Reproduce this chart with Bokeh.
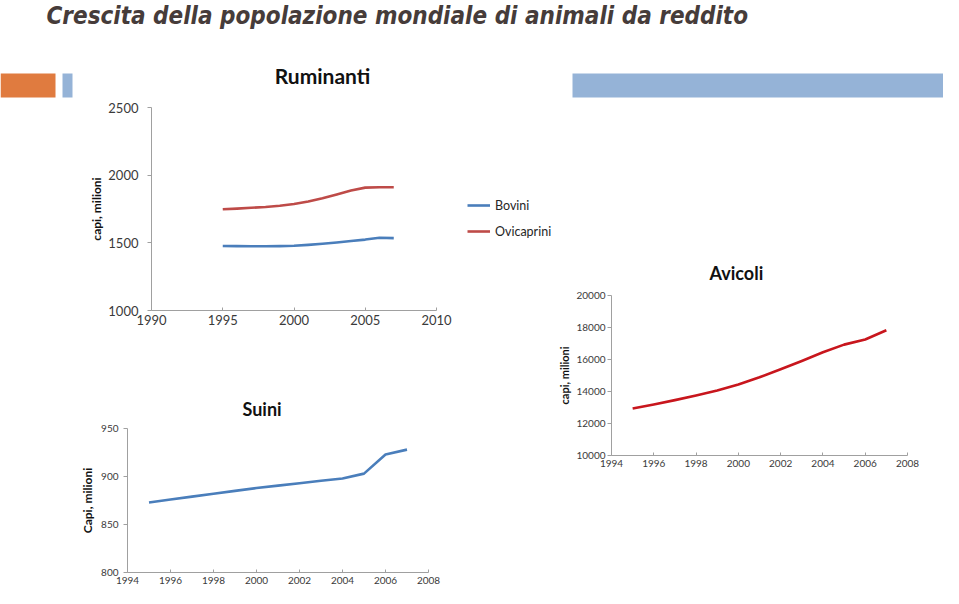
from bokeh.plotting import figure
from bokeh.layouts import column, row
from bokeh.models import Range1d, Legend, LegendItem, Title, FixedTicker
from bokeh.embed import file_html
from bokeh.resources import INLINE
from bokeh.core.properties import value

# ---------------- data ----------------
MAIN_TITLE = "Crescita della popolazione mondiale di animali da reddito"

rum_years = [1995, 1996, 1997, 1998, 1999, 2000, 2001, 2002, 2003, 2004, 2005, 2006, 2007]
bovini = [1477, 1476, 1475, 1475, 1476, 1479, 1485, 1493, 1503, 1513, 1524, 1538, 1535]
ovicaprini = [1748, 1753, 1759, 1765, 1774, 1787, 1805, 1830, 1858, 1886, 1908, 1911, 1911]
rum_xticks = [1990, 1995, 2000, 2005, 2010]
rum_yticks = [1000, 1500, 2000, 2500]

avi_years = [1995, 1996, 1997, 1998, 1999, 2000, 2001, 2002, 2003, 2004, 2005, 2006, 2007]
avicoli = [12940, 13190, 13460, 13750, 14060, 14440, 14890, 15390, 15910, 16450, 16930, 17250, 17830]
avi_xticks = [1994, 1996, 1998, 2000, 2002, 2004, 2006, 2008]
avi_yticks = [10000, 12000, 14000, 16000, 18000, 20000]

sui_years = [1995, 1996, 1997, 1998, 1999, 2000, 2001, 2002, 2003, 2004, 2005, 2006, 2007]
suini = [873, 876, 879, 882, 885, 888, 890.5, 893, 895.5, 898, 903, 923, 928]
sui_xticks = [1994, 1996, 1998, 2000, 2002, 2004, 2006, 2008]
sui_yticks = [800, 850, 900, 950]

# ---------------- styles ----------------
FONT = "Lato"
TITLE_FONT = "'DejaVu Sans Condensed', 'DejaVu Sans', sans-serif"
AXIS_COL = "#a0a0a0"
LABEL_COL = "#3a3a3a"
BLUE = "#4a7ebb"
RED_RUM = "#be4b48"
RED_AVI = "#c8161d"
ORANGE = "#e07b3f"
LIGHTBLUE = "#95b3d7"

LEFT_W = 555


def base_fig(w, h, xr, yr, left, right, top, bottom):
    p = figure(width=w, height=h, x_range=Range1d(*xr), y_range=Range1d(*yr),
               output_backend="svg", toolbar_location=None,
               min_border_left=left, min_border_right=right,
               min_border_top=top, min_border_bottom=bottom)
    p.outline_line_color = None
    p.xgrid.visible = False
    p.ygrid.visible = False
    p.background_fill_color = "white"
    p.border_fill_color = "white"
    return p


def style_axes(p, xticks, yticks, fs, ylabel, ystandoff, lstandoff, lfs="12px"):
    p.xaxis.ticker = FixedTicker(ticks=xticks)
    p.yaxis.ticker = FixedTicker(ticks=yticks)
    for ax in (p.xaxis[0], p.yaxis[0]):
        ax.axis_line_color = AXIS_COL
        ax.major_tick_line_color = AXIS_COL
        ax.minor_tick_line_color = None
        ax.major_label_text_font = FONT
        ax.major_label_text_font_size = fs
        ax.major_label_text_color = LABEL_COL
    p.xaxis.major_tick_in = 3
    p.xaxis.major_tick_out = 0
    p.xaxis.major_label_standoff = 4
    p.yaxis.major_tick_in = 0
    p.yaxis.major_tick_out = 4
    p.yaxis.major_label_standoff = ystandoff
    p.yaxis.axis_label = ylabel
    p.yaxis.axis_label_text_font = FONT
    p.yaxis.axis_label_text_font_style = "bold"
    p.yaxis.axis_label_text_font_size = lfs
    p.yaxis.axis_label_text_color = "#111111"
    p.yaxis.axis_label_standoff = lstandoff


# ---------------- header ----------------
hdr = figure(width=943, height=100, x_range=Range1d(0, 943), y_range=Range1d(100, 0),
             output_backend="svg", toolbar_location=None,
             x_axis_type=None, y_axis_type=None, min_border=0)
hdr.outline_line_color = None
hdr.xgrid.visible = False
hdr.ygrid.visible = False
hdr.quad(left=[0], right=[55], top=[73], bottom=[97], color=ORANGE, line_color=None)
hdr.quad(left=[62], right=[72], top=[73], bottom=[97], color=LIGHTBLUE, line_color=None)
hdr.quad(left=[572], right=[959], top=[73], bottom=[97], color=LIGHTBLUE, line_color=None)
hdr.text(x=[46], y=[15], text=[MAIN_TITLE], text_font=value(TITLE_FONT),
         text_font_style="bold italic", text_font_size="24px", text_color="#463c3a",
         text_baseline="middle", text_align="left")
hdr.text(x=[322], y=[75], text=["Ruminanti"], text_font=value(FONT),
         text_font_style="bold", text_font_size="21px", text_color="#111111",
         text_baseline="middle", text_align="center")

# ---------------- Ruminanti ----------------
# frame spans 151..555 px; 1990..2010 occupy 151..436 px, the rest holds the legend
rum = base_fig(LEFT_W, 240, (1990, 2018.35), (1000, 2500), 151, 0, 7, 30)
style_axes(rum, rum_xticks, rum_yticks, "13px", "capi, milioni", 9, 1)
rum.xaxis.bounds = (1990, 2010)
r_bov = rum.line(rum_years, bovini, line_color=BLUE, line_width=2.6, line_join="round")
r_ovi = rum.line(rum_years, ovicaprini, line_color=RED_RUM, line_width=2.6, line_join="round")
leg = Legend(items=[LegendItem(label="Bovini", renderers=[r_bov]),
                    LegendItem(label="Ovicaprini", renderers=[r_ovi])],
             location=(316, 69), padding=0, margin=0, spacing=6,
             glyph_width=23, glyph_height=20, label_standoff=5,
             label_text_font=FONT, label_text_font_size="12.5px", label_text_color="#262626",
             border_line_color=None, background_fill_alpha=0)
rum.add_layout(leg, "center")

# ---------------- Suini ----------------
sui = base_fig(LEFT_W, 248, (1994, 2008), (800, 950), 127, 127, 88, 16)
style_axes(sui, sui_xticks, sui_yticks, "10px", "Capi, milioni", 5, 3)
sui.line(sui_years, suini, line_color=BLUE, line_width=2.6, line_join="round")
sui.add_layout(Title(text="Suini", align="left", offset=115, standoff=18,
                     text_font=FONT, text_font_style="bold", text_font_size="18px",
                     text_color="#111111"), "above")

# ---------------- Avicoli ----------------
avi = base_fig(943 - LEFT_W, 488, (1994, 2008), (10000, 20000), 50, 36, 195, 133)
style_axes(avi, avi_xticks, avi_yticks, "10px", "capi, milioni", 2, 2, "11px")
avi.line(avi_years, avicoli, line_color=RED_AVI, line_width=2.6, line_join="round")
avi.add_layout(Title(text="Avicoli", align="left", offset=98, standoff=24,
                     text_font=FONT, text_font_style="bold", text_font_size="18px",
                     text_color="#111111"), "above")

left_col = column(row(rum), row(sui), spacing=0)
layout = column(hdr, row(left_col, avi, spacing=0), spacing=0)

open("out.html", "w").write(file_html(layout, INLINE))
